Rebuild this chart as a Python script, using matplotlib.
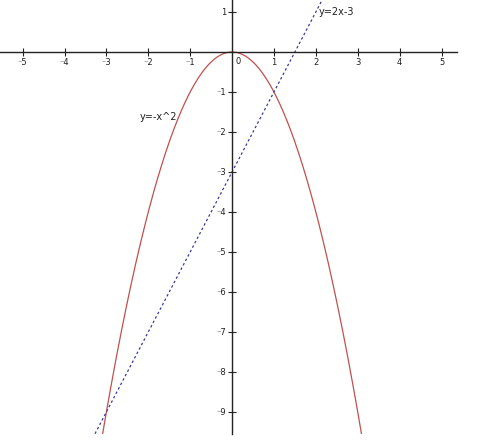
import numpy as np
import matplotlib.pyplot as plt

# tick positions and curves
x_ticks = [-5, -4, -3, -2, -1, 1, 2, 3, 4, 5]
y_ticks = [1, -1, -2, -3, -4, -5, -6, -7, -8, -9]
parabola_label = "y=-x^2"
line_label = "y=2x-3"
line_slope = 2
line_icept = -3

xs = np.linspace(-3.2, 3.2, 400)

fig = plt.figure(figsize=(5.0, 4.46), dpi=100)
ax = fig.add_axes([0.0, 0.027, 0.914, 0.973])

ax.plot(xs, -xs ** 2, color="#c0504d", lw=0.9)
xl = np.linspace(-3.5, 2.5, 50)
ax.plot(xl, line_slope * xl + line_icept, color="#3a3aa0", lw=0.9,
        linestyle=(0, (2, 2)))

ax.set_xlim(-5.54, 5.37)
ax.set_ylim(-9.55, 1.3)

for loc, spine in ax.spines.items():
    if loc in ['left', 'bottom']:
        spine.set_position('zero')
        spine.set_linewidth(1.0)
        spine.set_color('#222222')
    else:
        spine.set_color('none')

ax.set_xticks(x_ticks)
ax.set_yticks(y_ticks)
ax.set_xticklabels([str(t).replace('-', '\u207b') for t in x_ticks])
ax.set_yticklabels([str(t).replace('-', '\u207b') for t in y_ticks])
ax.tick_params(direction='inout', length=6, width=0.8, labelsize=6,
               colors='#222222', pad=1)
ax.text(0.08, -0.12, "0", fontsize=6, color='#222222', va='top', ha='left')

ax.text(2.06, 1.0, line_label, fontsize=7, color='#222222', va='center')
ax.text(-2.2, -1.62, parabola_label, fontsize=7, color='#222222', va='center')

fig.savefig("out.png", dpi=100)
